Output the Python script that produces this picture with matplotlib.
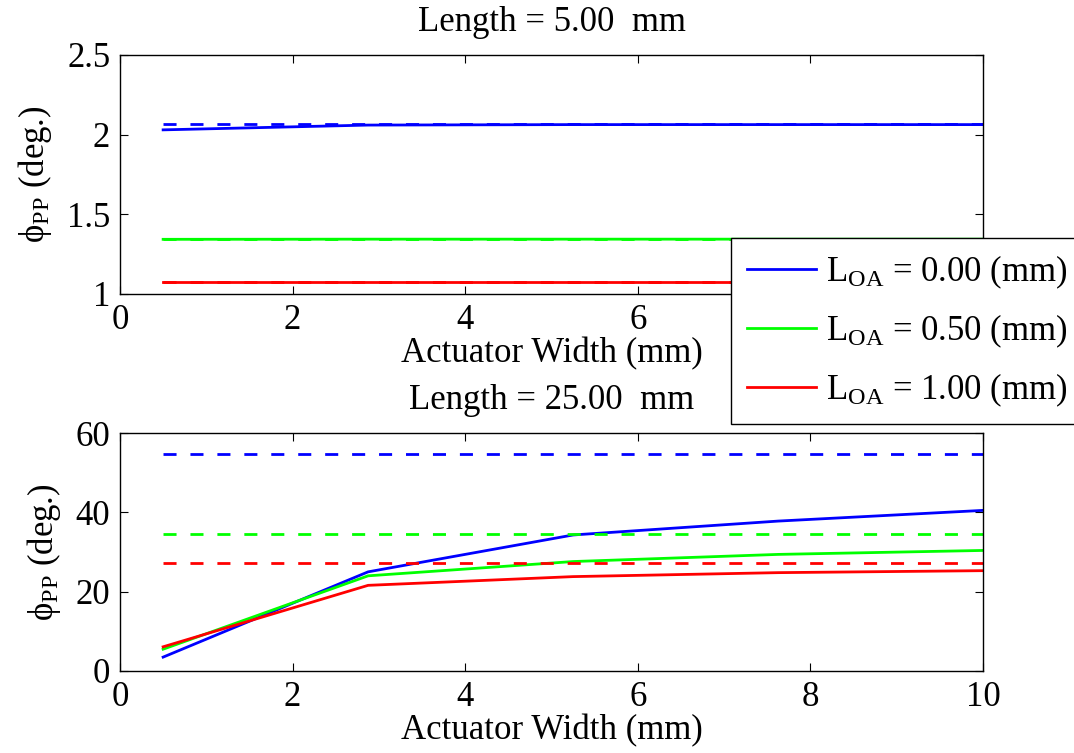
import numpy as np
import matplotlib
matplotlib.use("Agg")
import matplotlib.pyplot as plt

plt.rcParams['font.family'] = ['Liberation Serif', 'DejaVu Serif']
plt.rcParams['mathtext.fontset'] = 'custom'
plt.rcParams['mathtext.rm'] = 'Liberation Serif'
plt.rcParams['mathtext.it'] = 'Liberation Serif:italic'

# actuator widths (mm)
width = [0.5, 2.875, 5.25, 7.625, 10.0]
offsets = ['0.00', '0.50', '1.00']
colors = ['#0000ff', '#00ff00', '#ff0000']

# Length = 5 mm
short_solid = [
    [2.03, 2.06, 2.063, 2.063, 2.063],
    [1.343, 1.344, 1.344, 1.344, 1.344],
    [1.075, 1.075, 1.075, 1.075, 1.075],
]
short_dashed = [2.065, 1.347, 1.077]

# Length = 25 mm
long_solid = [
    [3.5, 25.0, 34.3, 37.8, 40.5],
    [5.5, 24.0, 27.6, 29.4, 30.4],
    [6.1, 21.6, 23.8, 24.8, 25.3],
]
long_dashed = [54.7, 34.5, 27.3]

fs = 25

fig = plt.figure(figsize=(10.74, 7.53), dpi=100)
ax1 = fig.add_axes([0.1117, 0.6096, 0.8036, 0.3174])
ax2 = fig.add_axes([0.1117, 0.1089, 0.8036, 0.316])

def draw(ax, solid, dashed, title, ylim, yticks, ylabels):
    handles = []
    for i in range(3):
        h, = ax.plot(width, solid[i], color=colors[i], lw=2.0,
                     label=r'$\mathrm{L_{OA}}$ = %s (mm)' % offsets[i])
        handles.append(h)
        ax.plot([width[0], width[-1]], [dashed[i], dashed[i]], color=colors[i],
                lw=2.0, dashes=(4.7, 5))
    ax.set_xlim(0, 10)
    ax.set_ylim(*ylim)
    ax.set_xticks([0, 2, 4, 6, 8, 10])
    ax.set_yticks(yticks)
    ax.set_yticklabels(ylabels)
    ax.tick_params(direction='in', top=True, right=True, labelsize=fs,
                   length=6, width=0.8, pad=7)
    for s in ax.spines.values():
        s.set_linewidth(1.0)
    ax.set_xlabel('Actuator Width (mm)', fontsize=fs, labelpad=0)
    ax.set_ylabel(r'$\mathrm{\phi_{PP}}$ (deg.)', fontsize=fs, labelpad=9)
    ax.set_title(title, fontsize=fs, pad=17)
    return handles

handles = draw(ax1, short_solid, short_dashed, 'Length = 5.00  mm',
               (1, 2.5), [1, 1.5, 2, 2.5], ['1', '1.5', '2', '2.5'])
draw(ax2, long_solid, long_dashed, 'Length = 25.00  mm',
     (0, 60), [0, 20, 40, 60], ['0', '20', '40', '60'])

leg = fig.legend(handles=handles, loc='upper left', bbox_to_anchor=(0.6806, 0.684),
                 fontsize=fs, fancybox=False, edgecolor='black', framealpha=1,
                 handlelength=2.0, handletextpad=0.3, borderpad=0.45,
                 labelspacing=0.62, borderaxespad=0)
leg.get_frame().set_linewidth(1.0)

fig.savefig('out.png', dpi=100)
